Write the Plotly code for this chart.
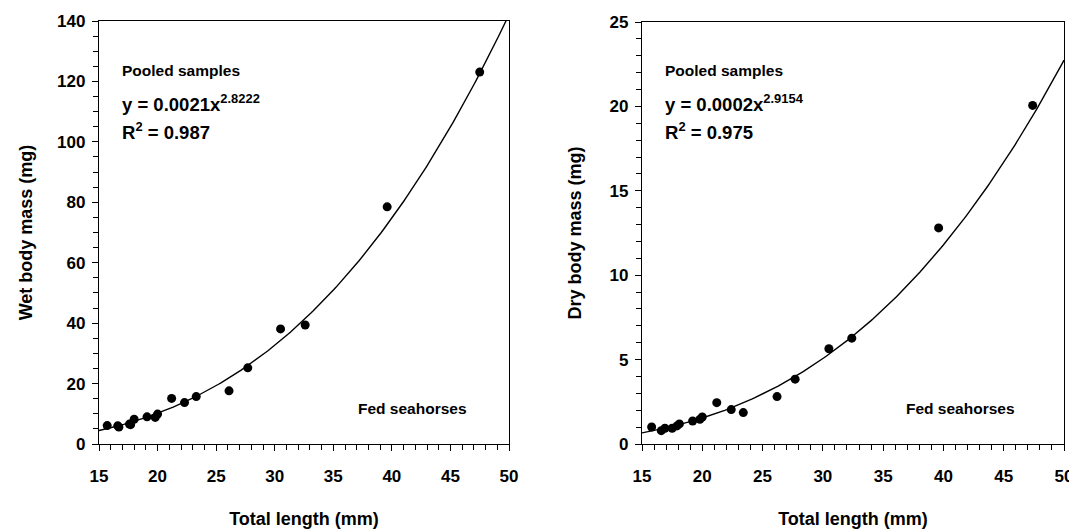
import numpy as np
import plotly.graph_objects as go

# fed seahorses, pooled samples
wet_length = [15.7, 16.6, 16.7, 17.6, 17.7, 18.0, 19.1, 19.8, 20.0, 21.2, 22.3, 23.3, 26.1, 27.7, 30.5, 32.6, 39.6, 47.5]
wet_mass = [6.1, 6.0, 5.6, 6.6, 6.4, 8.2, 9.0, 8.8, 9.9, 15.1, 13.7, 15.7, 17.6, 25.2, 38.1, 39.4, 78.5, 123.1]

dry_length = [15.8, 16.6, 16.9, 17.5, 17.9, 18.1, 19.2, 19.8, 20.0, 21.2, 22.4, 23.4, 26.2, 27.7, 30.5, 32.4, 39.6, 47.4]
dry_mass = [1.01, 0.79, 0.93, 0.93, 1.07, 1.19, 1.36, 1.46, 1.60, 2.45, 2.04, 1.86, 2.81, 3.84, 5.64, 6.27, 12.8, 20.06]

wet_eq = "y = 0.0021x<sup>2.8222</sup>"
wet_r2 = "R<sup>2</sup> = 0.987"
dry_eq = "y = 0.0002x<sup>2.9154</sup>"
dry_r2 = "R<sup>2</sup> = 0.975"

FONT = "Arial, Liberation Sans, sans-serif"
# the page body has an 8px margin, so the figure sits 8px in from the corner
OFF = 8
W, H = 1077 - OFF, 530 - OFF


def fx(px):
    return (px - OFF) / W


def fy(px):
    return 1 - (px - OFF) / H


def power_fit(x, y):
    # least squares in log-log space, like the spreadsheet power trendline
    b, a = np.polyfit(np.log(x), np.log(y), 1)
    xs = np.linspace(15, 50, 200)
    return xs, np.exp(a) * xs ** b


fig = go.Figure()

for i, (x, y) in enumerate([(wet_length, wet_mass), (dry_length, dry_mass)]):
    xa = "x" if i == 0 else "x2"
    ya = "y" if i == 0 else "y2"
    xs, ys = power_fit(x, y)
    fig.add_trace(go.Scatter(x=xs, y=ys, mode="lines", xaxis=xa, yaxis=ya,
                             line=dict(color="black", width=1.4), showlegend=False))
    fig.add_trace(go.Scatter(x=x, y=y, mode="markers", xaxis=xa, yaxis=ya,
                             marker=dict(color="black", size=9), showlegend=False))

axis_style = dict(
    showline=True, linecolor="black", linewidth=1.3, mirror=True,
    showgrid=False, zeroline=False, automargin=False,
    ticks="outside", ticklen=6, tickcolor="black", tickwidth=1.3,
    ticklabeloverflow="allow",
    tickfont=dict(family=FONT, size=17, color="black", weight="bold"),
)
title_font = dict(family=FONT, size=18, color="black", weight="bold")
xminor = dict(dtick=1, ticks="outside", ticklen=5, tickcolor="black")

fig.update_layout(
    width=W, height=H,
    paper_bgcolor="white", plot_bgcolor="white",
    margin=dict(l=0, r=0, t=0, b=0),
    xaxis=dict(axis_style, domain=[fx(99), fx(509)], range=[15, 50], dtick=5,
               minor=xminor, ticklabelstandoff=10,
               title=dict(text="Total length (mm)", font=title_font, standoff=27)),
    yaxis=dict(axis_style, domain=[fy(444), fy(21)], range=[0, 140], dtick=20,
               minor=dict(dtick=5, ticks="outside", ticklen=5, tickcolor="black"),
               ticklabelstandoff=3,
               title=dict(text="Wet body mass (mg)", font=title_font, standoff=19)),
    xaxis2=dict(axis_style, domain=[fx(642), fx(1064)], range=[15, 50], dtick=5,
                anchor="y2", minor=xminor, ticklabelstandoff=10,
                title=dict(text="Total length (mm)", font=title_font, standoff=27)),
    yaxis2=dict(axis_style, domain=[fy(444), fy(22)], range=[0, 25], dtick=5,
                anchor="x2",
                minor=dict(dtick=1, ticks="outside", ticklen=5, tickcolor="black"),
                ticklabelstandoff=3,
                title=dict(text="Dry body mass (mg)", font=title_font, standoff=23)),
)

small = dict(family=FONT, size=15.5, color="black", weight="bold")
big = dict(family=FONT, size=18.5, color="black", weight="bold")
note = dict(xref="paper", yref="paper", showarrow=False, yanchor="middle")

for left_px, right_px, eq, r2 in [(99, 469, wet_eq, wet_r2), (642, 1017, dry_eq, dry_r2)]:
    left = fx(left_px + 21)
    fig.add_annotation(note, x=left, y=fy(70), text="Pooled samples", xanchor="left", font=small)
    fig.add_annotation(note, x=left, y=fy(103), text=eq, xanchor="left", font=big)
    fig.add_annotation(note, x=left, y=fy(131), text=r2, xanchor="left", font=big)
    fig.add_annotation(note, x=fx(right_px), y=fy(408), text="Fed seahorses",
                       xanchor="right", font=small)

fig.write_html("out.html")
